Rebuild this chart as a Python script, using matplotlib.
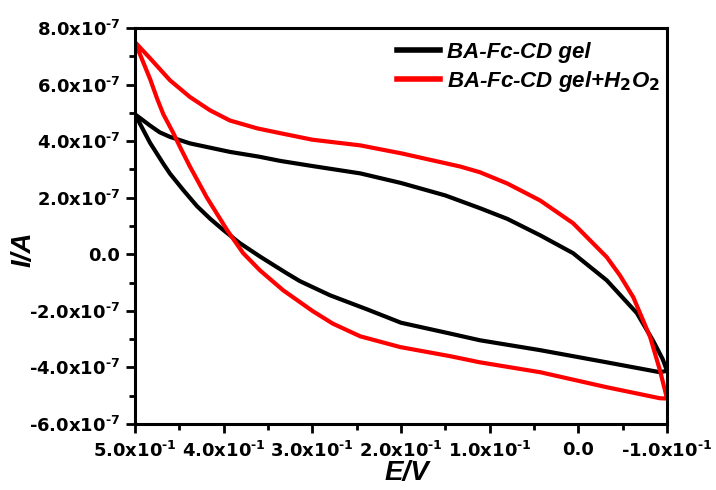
from matplotlib import pyplot as plt
from matplotlib.ticker import AutoMinorLocator

# potential (V) and current (x1e-7 A)
# each curve: upper branch 0.5 -> -0.1 followed by lower branch -0.1 -> 0.5
gel_E = [0.5, 0.483, 0.472, 0.4605, 0.438, 0.393, 0.36, 0.336, 0.3, 0.246,
         0.2, 0.15, 0.111, 0.08, 0.043, 0.006, -0.032, -0.066, -0.084, -0.095,
         -0.1,
         -0.092, -0.032, 0.043, 0.111, 0.145, 0.2, 0.238, 0.28, 0.314, 0.33,
         0.359, 0.382, 0.4, 0.415, 0.43, 0.445, 0.4605, 0.468, 0.483, 0.5]
gel_I = [4.95, 4.55, 4.31, 4.15, 3.92, 3.62, 3.45, 3.3, 3.12, 2.86,
         2.52, 2.08, 1.63, 1.25, 0.67, 0.04, -0.92, -2.08, -3.04, -3.7,
         -4.12,
         -4.17, -3.82, -3.39, -3.04, -2.8, -2.42, -1.95, -1.45, -0.95, -0.65,
         -0.08, 0.4, 0.85, 1.25, 1.7, 2.25, 2.85, 3.2, 3.94, 4.95]

h2o2_E = [0.5, 0.483, 0.4605, 0.438, 0.4154, 0.393, 0.362, 0.336, 0.3, 0.246,
          0.2, 0.133, 0.111, 0.08, 0.043, 0.006, -0.032, -0.047, -0.062,
          -0.081, -0.092, -0.1,
          -0.092, -0.032, 0.043, 0.111, 0.145, 0.201, 0.246, 0.277, 0.3,
          0.333, 0.359, 0.378, 0.396, 0.419, 0.438, 0.449, 0.457, 0.468,
          0.475, 0.483, 0.5]
h2o2_I = [7.5, 6.93, 6.15, 5.56, 5.09, 4.73, 4.45, 4.28, 4.05, 3.85,
          3.57, 3.1, 2.9, 2.5, 1.9, 1.1, -0.1, -0.75, -1.52,
          -2.93, -4.1, -5.1,
          -5.09, -4.7, -4.17, -3.82, -3.6, -3.28, -2.9, -2.45, -2.0,
          -1.27, -0.57, 0.04, 0.85, 2.01, 3.1, 3.78, 4.3, 4.95,
          5.5, 6.2, 7.5]

x_ticks = [0.5, 0.4, 0.3, 0.2, 0.1, 0.0, -0.1]
x_labels = ['5.0x10$^{\u20101}$', '4.0x10$^{\u20101}$', '3.0x10$^{\u20101}$',
            '2.0x10$^{\u20101}$', '1.0x10$^{\u20101}$', '0.0',
            '-1.0x10$^{\u20101}$']
y_ticks = [8, 6, 4, 2, 0, -2, -4, -6]
y_labels = ['8.0x10$^{\u20107}$', '6.0x10$^{\u20107}$', '4.0x10$^{\u20107}$',
            '2.0x10$^{\u20107}$', '0.0', '-2.0x10$^{\u20107}$',
            '-4.0x10$^{\u20107}$', '-6.0x10$^{\u20107}$']

plt.rcParams['font.family'] = ['Liberation Sans', 'DejaVu Sans']
plt.rcParams['font.weight'] = 'bold'
plt.rcParams['mathtext.fontset'] = 'custom'
plt.rcParams['mathtext.bf'] = 'DejaVu Sans:bold'
plt.rcParams['mathtext.rm'] = 'DejaVu Sans:bold'
plt.rcParams['mathtext.it'] = 'Liberation Sans:bold:italic'
plt.rcParams['mathtext.default'] = 'bf'

fig = plt.figure(figsize=(7.16, 4.9), dpi=100)
ax = fig.add_axes([0.1885, 0.1347, 0.7431, 0.8082])

scale = 1e-7
ax.plot(gel_E, [v * scale for v in gel_I], c='black', lw=3,
        label='BA-Fc-CD gel')
ax.plot(h2o2_E, [v * scale for v in h2o2_I], c='#ff0000', lw=3,
        label=r'BA-Fc-CD gel+H$_{\mathit{2}}$O$_{\mathit{2}}$')

ax.set_xlim(0.5, -0.1)
ax.set_ylim(-6e-7, 8e-7)
ax.set_xticks(x_ticks, x_labels)
ax.set_yticks([v * scale for v in y_ticks], y_labels)
for lab in ax.get_xticklabels() + ax.get_yticklabels():
    lab.set_family('DejaVu Sans')
ax.xaxis.set_minor_locator(AutoMinorLocator(2))
ax.yaxis.set_minor_locator(AutoMinorLocator(2))
ax.tick_params(axis='both', which='major', direction='out', length=6.5,
               width=2, labelsize=13)
ax.tick_params(axis='x', which='major', pad=6)
ax.tick_params(axis='y', which='major', pad=4)
ax.tick_params(axis='both', which='minor', direction='out', length=4.3,
               width=2)
for s in ax.spines.values():
    s.set_linewidth(2.2)

ax.set_xlabel('E/V', fontsize=20, fontstyle='italic', fontweight='bold')
ax.set_ylabel('I/A', fontsize=20, fontstyle='italic', fontweight='bold')
ax.xaxis.set_label_coords(0.511, -0.09)
ax.yaxis.set_label_coords(-0.185, 0.44)

leg = ax.legend(loc='upper left', bbox_to_anchor=(0.5545, 0.914),
                bbox_transform=fig.transFigure, frameon=False, borderpad=0,
                borderaxespad=0, handlelength=1.95, handletextpad=0.3,
                labelspacing=0.25,
                prop={'size': 16, 'style': 'italic', 'weight': 'bold'})
for line in leg.get_lines():
    line.set_linewidth(4)

plt.savefig('out.png', dpi=100)
